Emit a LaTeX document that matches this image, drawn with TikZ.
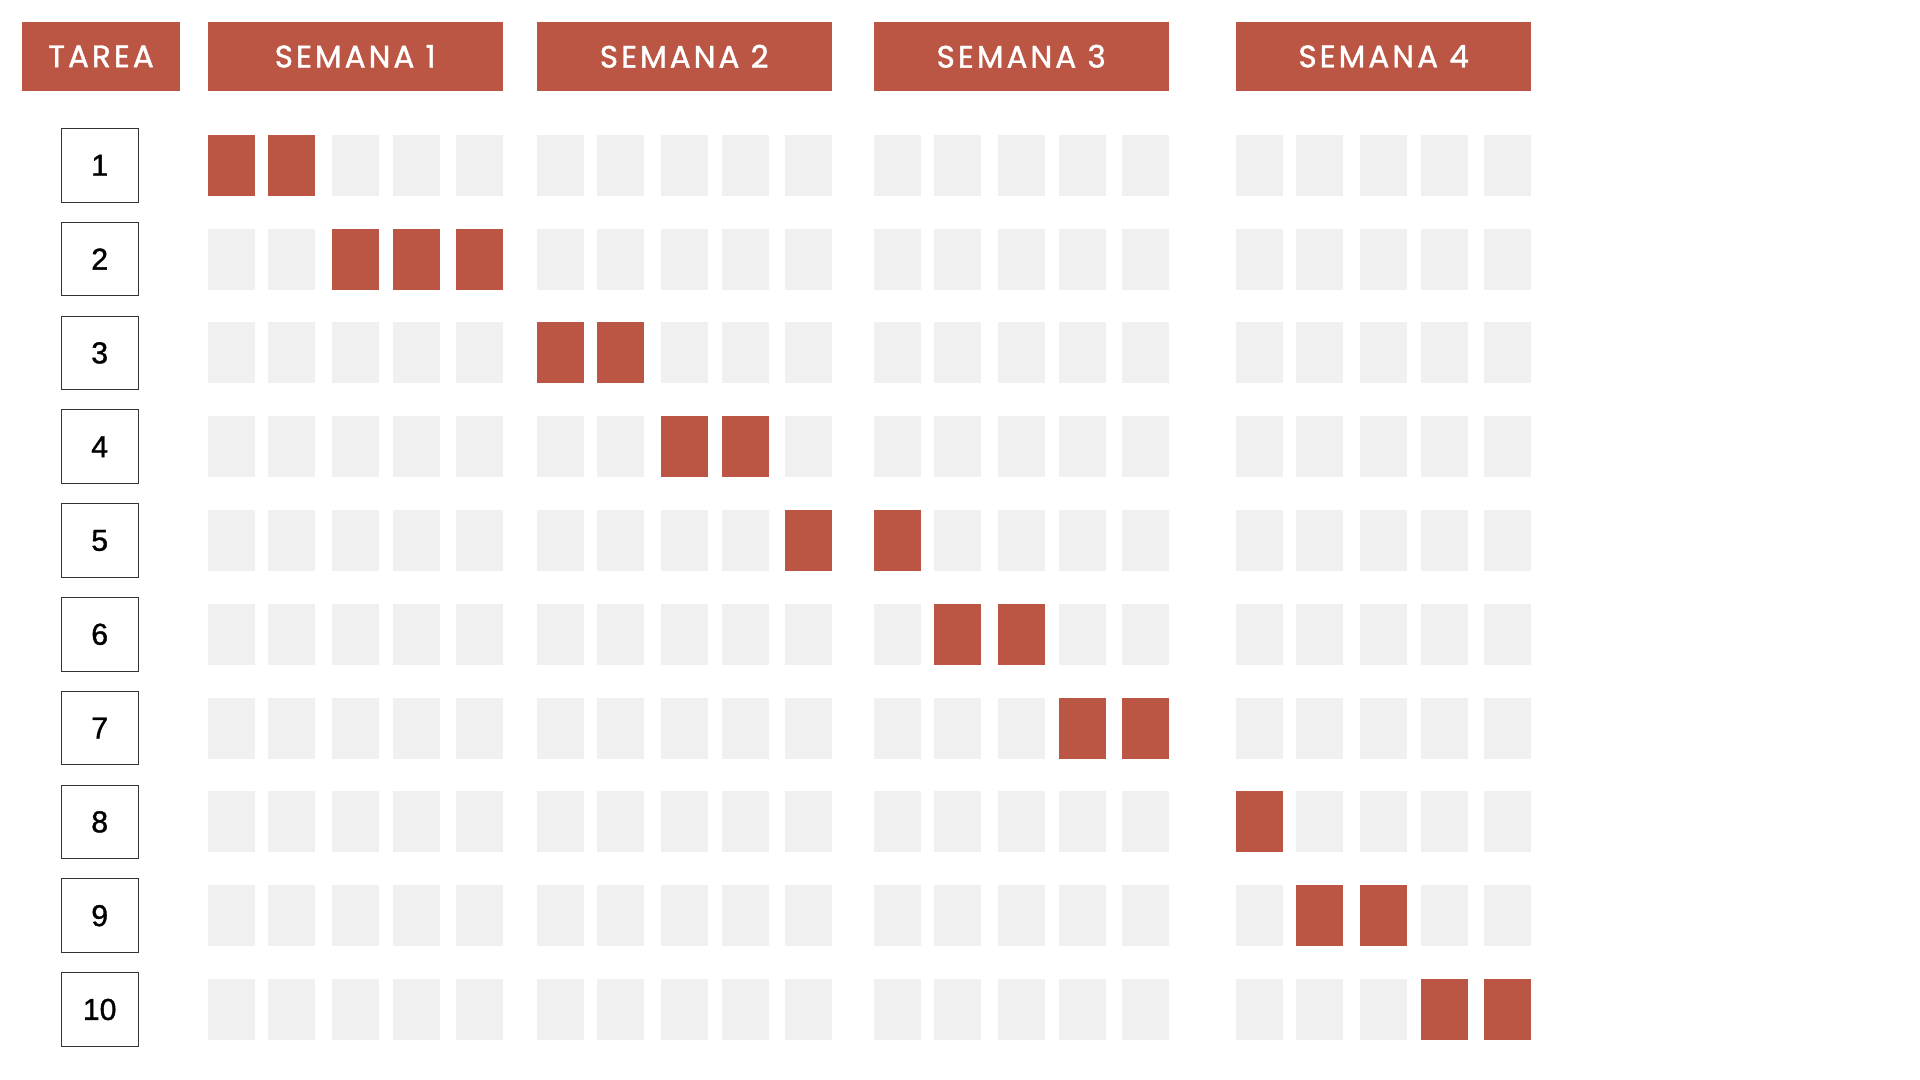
\documentclass[tikz,border=0pt]{standalone}
\usepackage{fontspec}
\setmainfont{Liberation Sans}
\newfontfamily\headfont[LetterSpace=10,FakeBold=1.4]{Poppins}
\newfontfamily\numfont[FakeBold=1.2]{Liberation Sans}
\usetikzlibrary{positioning}
\definecolor{barred}{HTML}{BC5644}
\definecolor{cellgray}{HTML}{F0F0F0}

\begin{document}
\begin{tikzpicture}[
    x=1cm, y=-1cm,
    head/.style={fill=barred, text=white, minimum height=6.86mm, inner sep=0pt, font=\headfont\fontsize{8.8}{10}\selectfont},
    task/.style={draw=black!80, line width=0.3pt, fill=white, minimum width=7.7mm, minimum height=7.35mm, inner sep=0pt, font=\numfont\fontsize{8.6}{10}\selectfont},
    cell/.style={minimum width=4.7mm, minimum height=6.1mm, inner sep=0pt, anchor=west},
  ]
  \useasboundingbox (0,0) rectangle (19.2,10.8);

  % Header row
  \node[head, minimum width=15.8mm] (h0) at (1.01,0.563) {TAREA};
  \foreach \w/\wx in {1/2.07, 2/5.36, 3/8.73, 4/12.355}
    \node[head, minimum width=29.5mm, anchor=west] (h\w) at (\wx,0.563) {SEMANA \w};

  % One row per task: busy days \a..\b (counted 1..20 over the four weeks)
  \foreach \r/\a/\b in {1/1/2, 2/3/5, 3/6/7, 4/8/9, 5/10/11, 6/12/13, 7/14/15, 8/16/16, 9/17/18, 10/19/20} {
    \pgfmathsetmacro\yr{1.653+(\r-1)*0.938}
    \node[task] (t\r) at (0.997,\yr) {\r};
    \foreach \w/\wx in {1/2.07, 2/5.36, 3/8.73, 4/12.355}
      \foreach \d/\dx in {1/0, 2/0.60, 3/1.24, 4/1.85, 5/2.48} {
        \pgfmathtruncatemacro\k{(\w-1)*5+\d}
        \pgfmathtruncatemacro\on{and(\k>=\a,\k<=\b)}
        \ifnum\on=1 \def\cc{barred}\else\def\cc{cellgray}\fi
        \node[cell, fill=\cc] (c\r-\k) at ({\wx+\dx},\yr) {};
      }
  }

\end{tikzpicture}
\end{document}
